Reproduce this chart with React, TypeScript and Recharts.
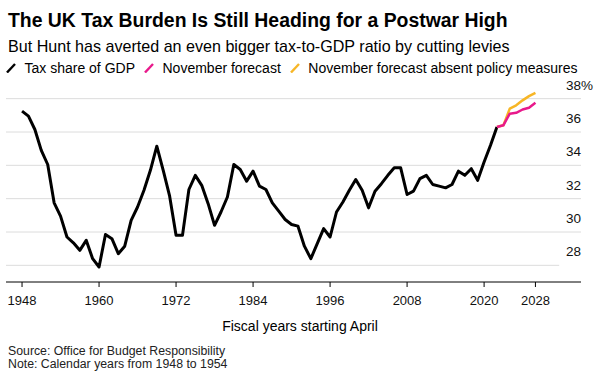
import { LineChart, Line, XAxis, YAxis, ReferenceLine } from 'recharts'

// Fiscal years (calendar years 1948-1954)
const historyYears = [
  1948, 1949, 1950, 1951, 1952, 1953, 1954, 1955, 1956, 1957,
  1958, 1959, 1960, 1961, 1962, 1963, 1964, 1965, 1966, 1967,
  1968, 1969, 1970, 1971, 1972, 1973, 1974, 1975, 1976, 1977,
  1978, 1979, 1980, 1981, 1982, 1983, 1984, 1985, 1986, 1987,
  1988, 1989, 1990, 1991, 1992, 1993, 1994, 1995, 1996, 1997,
  1998, 1999, 2000, 2001, 2002, 2003, 2004, 2005, 2006, 2007,
  2008, 2009, 2010, 2011, 2012, 2013, 2014, 2015, 2016, 2017,
  2018, 2019, 2020, 2021, 2022,
]
const taxShare = [
  37.25, 36.95, 36.15, 34.9, 34.05, 31.75, 30.95, 29.7, 29.35, 28.9,
  29.5, 28.4, 27.9, 29.85, 29.6, 28.7, 29.15, 30.7, 31.5, 32.5,
  33.7, 35.15, 33.7, 32.15, 29.8, 29.8, 32.55, 33.4, 32.8, 31.7,
  30.4, 31.2, 32.1, 34.05, 33.75, 33.05, 33.65, 32.75, 32.55, 31.75,
  31.25, 30.75, 30.45, 30.35, 29.15, 28.4, 29.3, 30.2, 29.7, 31.2,
  31.8, 32.5, 33.15, 32.5, 31.45, 32.45, 32.9, 33.4, 33.85, 33.85,
  32.25, 32.45, 33.2, 33.4, 32.85, 32.75, 32.65, 32.85, 33.65, 33.4,
  33.8, 33.1, 34.2, 35.2, 36.3,
]

const forecastYears = [2022, 2023, 2024, 2025, 2026, 2027, 2028]
const novemberForecast = [36.3, 36.4, 37.1, 37.15, 37.35, 37.45, 37.75]
const absentPolicy = [36.3, 36.4, 37.4, 37.6, 37.9, 38.15, 38.35]

const xTicks = [1948, 1960, 1972, 1984, 1996, 2008, 2020, 2028]
const yTicks = [28, 30, 32, 34, 36, 38]

const series = [
  { key: 'tax', name: 'Tax share of GDP', color: '#000000' },
  { key: 'forecast', name: 'November forecast', color: '#e8198b' },
  { key: 'absent', name: 'November forecast absent policy measures', color: '#f7b626' },
]

const allYears = [...historyYears, ...forecastYears.slice(1)]
const data = allYears.map((year) => {
  const h = historyYears.indexOf(year)
  const f = forecastYears.indexOf(year)
  return {
    year,
    tax: h >= 0 ? taxShare[h] : null,
    forecast: f >= 0 ? novemberForecast[f] : null,
    absent: f >= 0 ? absentPolicy[f] : null,
  }
})

const font = '"Liberation Sans", Arial, Helvetica, sans-serif'

function YTick(props: any) {
  const { y, payload } = props
  return (
    <text x={566} y={y - 9} fontSize={13.5} fill="#111" fontFamily={font}>
      {payload.value === 38 ? '38%' : payload.value}
    </text>
  )
}

function Slash({ color }: { color: string }) {
  return (
    <svg width={10} height={10} style={{ marginRight: 8.5, flexShrink: 0 }}>
      <line x1={1} y1={9.5} x2={9} y2={1} stroke={color} strokeWidth={2.4} />
    </svg>
  )
}

export default function App() {
  return (
    <div
      style={{
        position: 'absolute',
        left: 0,
        top: 0,
        width: 600,
        height: 375,
        background: '#fff',
        fontFamily: font,
        color: '#000',
        overflow: 'hidden',
      }}
    >
      <div style={{ position: 'absolute', left: 8, top: 10.6, fontSize: 19.4, lineHeight: '19.4px', fontWeight: 700, whiteSpace: 'nowrap' }}>
        The UK Tax Burden Is Still Heading for a Postwar High
      </div>
      <div style={{ position: 'absolute', left: 8, top: 38.3, fontSize: 16.1, lineHeight: '16.1px', whiteSpace: 'nowrap' }}>
        But Hunt has averted an even bigger tax-to-GDP ratio by cutting levies
      </div>
      <div
        style={{
          position: 'absolute',
          left: 6,
          top: 61.2,
          fontSize: 14,
          lineHeight: '14px',
          display: 'flex',
          alignItems: 'center',
          whiteSpace: 'nowrap',
        }}
      >
        {series.map((s) => (
          <div key={s.key} style={{ display: 'flex', alignItems: 'center', marginRight: 9 }}>
            <Slash color={s.color} />
            <span>{s.name}</span>
          </div>
        ))}
      </div>

      <div style={{ position: 'absolute', left: 0, top: 0 }}>
        <LineChart width={600} height={312} data={data} margin={{ top: 82, right: 19, bottom: 0, left: 6 }}>
          {yTicks
            .filter((t) => t !== 28)
            .map((t) => (
              <ReferenceLine key={t} y={t} stroke="#dcdcdc" strokeWidth={1} />
            ))}
          <ReferenceLine
            segment={[
              { x: 1945.5, y: 28 },
              { x: 2031.7, y: 28 },
            ]}
            stroke="#dcdcdc"
            strokeWidth={1}
          />
          <XAxis
            dataKey="year"
            type="number"
            domain={[1945.5, 2035.1]}
            ticks={xTicks}
            height={30}
            tickSize={5}
            tickMargin={9}
            axisLine={{ stroke: '#000', strokeWidth: 1 }}
            tickLine={{ stroke: '#000', strokeWidth: 1 }}
            tick={{ fontSize: 13, fill: '#111', fontFamily: font }}
            interval={0}
          />
          <YAxis
            orientation="right"
            mirror
            domain={[27, 39]}
            ticks={yTicks}
            axisLine={false}
            tickLine={false}
            tick={<YTick />}
            allowDataOverflow
          />
          <Line
            dataKey="tax"
            stroke={series[0].color}
            strokeWidth={3}
            dot={false}
            isAnimationActive={false}
            strokeLinejoin="round"
          />
          <Line
            dataKey="absent"
            stroke={series[2].color}
            strokeWidth={2.5}
            dot={false}
            isAnimationActive={false}
            strokeLinejoin="round"
          />
          <Line
            dataKey="forecast"
            stroke={series[1].color}
            strokeWidth={2.5}
            dot={false}
            isAnimationActive={false}
            strokeLinejoin="round"
          />
        </LineChart>
      </div>

      <div style={{ position: 'absolute', left: 0, top: 319.2, width: 600, textAlign: 'center', fontSize: 14, lineHeight: '14px' }}>
        Fiscal years starting April
      </div>
      <div style={{ position: 'absolute', left: 8, top: 345.3, fontSize: 12.3, lineHeight: '12.3px', color: '#222' }}>
        Source: Office for Budget Responsibility
      </div>
      <div style={{ position: 'absolute', left: 8, top: 357.9, fontSize: 12.3, lineHeight: '12.3px', color: '#222' }}>
        Note: Calendar years from 1948 to 1954
      </div>
    </div>
  )
}
